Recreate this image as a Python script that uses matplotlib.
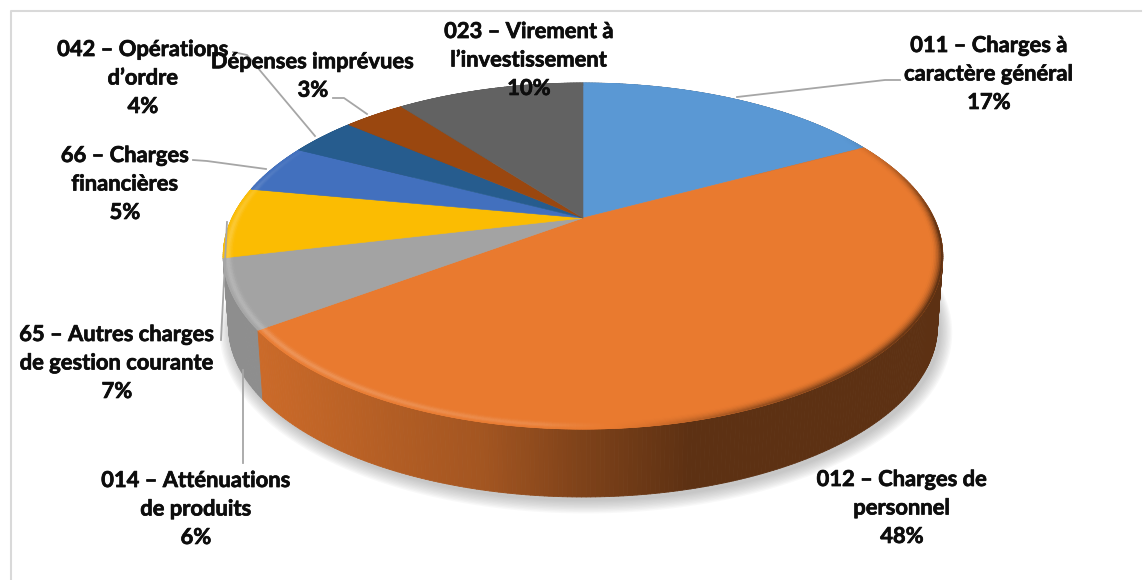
import numpy as np
import matplotlib
matplotlib.use("Agg")
import matplotlib.pyplot as plt
import matplotlib.patheffects as pe
from matplotlib.collections import PolyCollection

categories = ["011 – Charges à\ncaractère général", "012 – Charges de\npersonnel",
              "014 – Atténuations\nde produits", "65 – Autres charges\nde gestion courante",
              "66 – Charges\nfinancières", "042 – Opérations\nd’ordre",
              "Dépenses imprévues", "023 – Virement à\nl’investissement"]
values = [17.2, 47.7, 6.4, 6.6, 4.6, 3.7, 3.4, 10.4]
colors = ["#5a98d4", "#e97a2f", "#a3a3a3", "#fbbc02", "#4270be", "#265c8e", "#9a470f", "#626262"]
label_pos = [(989, 74), (902, 508), (196, 509), (117, 363), (125, 184), (143, 78), (313, 76), (529, 60)]
leaders = [[(737, 97), (885, 80), (900, 80)],
           [],
           [(243, 370), (243, 463)],
           [(227, 222), (221, 340)],
           [(193, 160), (207, 161), (266, 169)],
           [(233, 52), (247, 55), (315, 136)],
           [(333, 98), (344, 98), (367, 114)],
           []]

CX, CY, RX, RY, K = 583, 218, 351, 164.7, 0.22
DEPTH, SHRINK = 71, 0.985


def top(th, r=1.0):
    u, v = r * np.sin(th), r * np.cos(th)
    d = 1 + K * v
    return CX + RX * u / d, CY - RY * v / d


def bottom(th):
    u, v = np.sin(th), np.cos(th)
    d = 1 + K * v
    return CX + SHRINK * RX * u / d, CY + DEPTH - SHRINK * RY * v / d


def shade(c, f):
    rgb = np.array(matplotlib.colors.to_rgb(c))
    if f <= 1:
        return tuple(rgb * f)
    return tuple(rgb + (1 - rgb) * (f - 1))


fig = plt.figure(figsize=(11.43, 5.80), dpi=100)
ax = fig.add_axes([0, 0, 1, 1])
ax.set_xlim(0, 1143)
ax.set_ylim(580, 0)
ax.axis("off")

# chart frame
ax.plot([10.5, 10.5, 1141], [580, 10.5, 10.5], color="#d9d9d9", lw=1.5, zorder=0)

# soft drop shadow
full = np.linspace(0, 2 * np.pi, 361)
bx, by = bottom(full)
for g in np.linspace(12, 0, 10):
    sx = CX + (bx - CX) * (1 + g / 360) + 3
    sy = (CY + DEPTH) + (by - CY - DEPTH) * (1 + g / 200) + 4
    ax.fill(sx, sy, color="#808080", alpha=0.05, lw=0, zorder=1)

edges = np.cumsum([0] + values) / sum(values) * 2 * np.pi

# side wall
quads, qcols, qkey = [], [], []
for i, val in enumerate(values):
    n = max(int(val * 6), 4)
    ths = np.linspace(edges[i], edges[i + 1], n + 1)
    for a, b in zip(ths[:-1], ths[1:]):
        xa, ya = top(a)
        xb, yb = top(b)
        xc, yc = bottom(b)
        xd, yd = bottom(a)
        xm = (xa + xb) / 2
        f = np.interp(xm, [262, 400, 483, 583, 690], [0.87, 0.76, 0.70, 0.54, 0.40])
        quads.append([(xa, ya), (xb, yb), (xc, yc), (xd, yd)])
        qcols.append(shade(colors[i], f))
        qkey.append(-np.cos((a + b) / 2))
order = np.argsort(qkey)
ax.add_collection(PolyCollection([quads[j] for j in order], facecolors=[qcols[j] for j in order],
                                 edgecolors="face", linewidths=0.6, zorder=2))

# top face
for i, val in enumerate(values):
    ths = np.linspace(edges[i], edges[i + 1], max(int(val * 6), 4) + 1)
    x, y = top(ths)
    ax.fill(np.r_[CX, x], np.r_[CY, y], color=colors[i], lw=0.4, zorder=3)

# bevelled rim on the top face
rim_r = np.linspace(0.972, 1.0, 8)
profile = np.array([0.1, 0.35, 0.7, 1.0, 1.0, 0.6, 0.2])
rq, rc = [], []
for i, val in enumerate(values):
    ths = np.linspace(edges[i], edges[i + 1], max(int(val * 8), 4) + 1)
    for a, b in zip(ths[:-1], ths[1:]):
        m = (a + b) / 2
        xm, _ = top(m)
        w = np.clip((0.55 - np.cos(m)) / 0.6, 0, 1)
        s = np.interp(xm, [260, 540, 640, 760, 940], [0.20, 0.12, -0.05, -0.35, -0.6]) * w
        for k in range(7):
            r0, r1 = rim_r[k], rim_r[k + 1]
            p = profile[k] if s > 0 else ((k + 1) / 7) ** 2
            f = 1 + s * p
            xa, ya = top(a, r0)
            xb, yb = top(b, r0)
            xc, yc = top(b, r1)
            xd, yd = top(a, r1)
            rq.append([(xa, ya), (xb, yb), (xc, yc), (xd, yd)])
            rc.append(shade(colors[i], f))
ax.add_collection(PolyCollection(rq, facecolors=rc, edgecolors="face", linewidths=0.4, zorder=4))

# leader lines and labels
for name, val, pos, pts in zip(categories, values, label_pos, leaders):
    if pts:
        ax.plot(*zip(*pts), color="#a6a6a6", lw=1.3, zorder=5, solid_joinstyle="round")
    ax.text(pos[0], pos[1], f"{name}\n{val:.0f}%", ha="center", va="center", family="Lato",
            fontweight="bold", fontsize=15.8, linespacing=1.44, color="#0d0d0d", zorder=6,
            path_effects=[pe.withStroke(linewidth=0.5, foreground="#0d0d0d")])

fig.savefig("out.png", dpi=100, facecolor="white")
